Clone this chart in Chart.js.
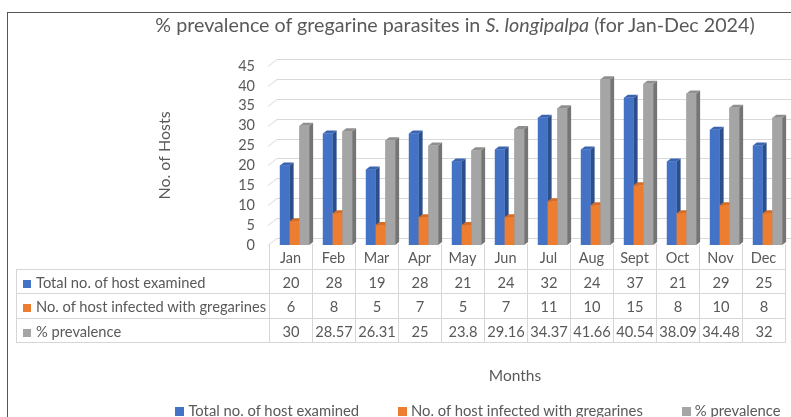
<!DOCTYPE html>
<html><head><meta charset="utf-8">
<script src="https://cdn.jsdelivr.net/npm/chart.js@4.4.1/dist/chart.umd.min.js"></script>
<style>
html,body{margin:0;padding:0;background:#fff;}
#wrap{position:relative;width:791px;height:417px;overflow:hidden;font-family:Lato,'Open Sans',sans-serif;color:#595959;}
#frame{position:absolute;left:7px;top:12px;width:950px;height:500px;border-left:1.5px solid #555;border-top:1.5px solid #555;}
#c{position:absolute;left:0;top:0;}
#title{position:absolute;left:0;top:12px;width:910px;text-align:center;font-size:19.7px;line-height:26px;white-space:nowrap;}
#xtitle{position:absolute;left:415px;top:366px;width:200px;text-align:center;font-size:15.5px;line-height:18px;}
#tbl{position:absolute;left:16px;top:244px;border-collapse:collapse;table-layout:fixed;font-size:14.7px;}
#tbl td{border:1px solid #D6D6D6;padding:0;text-align:center;white-space:nowrap;overflow:hidden;}
#tbl tr.hd td{border-top:none;height:25px;}
#tbl tr.hd td.lab{border-left:none;}
#tbl td.lab{text-align:left;padding-left:6px;}
.key{display:inline-block;width:8px;height:8px;margin-right:5px;vertical-align:0px;}
#legend{position:absolute;left:0;top:401px;width:956px;display:flex;justify-content:center;gap:39px;font-size:14.8px;line-height:18px;white-space:nowrap;}
#legend .lk{display:inline-block;width:9px;height:9px;margin-right:4px;vertical-align:0px;}
</style></head>
<body>
<div id="wrap">
  <div id="frame"></div>
  <canvas id="c" width="791" height="417"></canvas>
  <div id="title">% prevalence of gregarine parasites in <i>S. longipalpa</i> (for Jan-Dec 2024)</div>
  <table id="tbl"></table>
  <div id="xtitle">Months</div>
  <div id="legend"></div>
</div>
<script>
const months = ['Jan','Feb','Mar','Apr','May','Jun','Jul','Aug','Sept','Oct','Nov','Dec'];
const totalExamined = [20,28,19,28,21,24,32,24,37,21,29,25];
const infected = [6,8,5,7,5,7,11,10,15,8,10,8];
const prevalence = [30,28.57,26.31,25,23.8,29.16,34.37,41.66,40.54,38.09,34.48,32];
const prevalenceText = ['30','28.57','26.31','25','23.8','29.16','34.37','41.66','40.54','38.09','34.48','32'];
const seriesNames = ['Total no. of host examined','No. of host infected with gregarines','% prevalence'];
const yAxisTitle = 'No. of Hosts';

const FRONT = ['#4472C4','#ED7D31','#A5A5A5'];
const SIDE  = ['#2C4F8C','#AD5A22','#757575'];
const TOP   = ['#3A64B0','#D26E2A','#8F8F8F'];
const TXT = '#595959';
const DX = 4, DY = 3, SHIFT = 4;

const bar3d = {
  id: 'bar3d',
  beforeDatasetsDraw(chart) {
    const {ctx, chartArea: a, scales: {y}} = chart;
    ctx.save();
    ctx.strokeStyle = '#D9D9D9'; ctx.lineWidth = 1;
    y.ticks.forEach(t => {
      const py = Math.round(y.getPixelForValue(t.value)) + 0.5;
      ctx.beginPath();
      ctx.moveTo(a.left - 1, py);
      ctx.lineTo(a.left + 8, py - 7);
      ctx.lineTo(chart.width, py - 7);
      ctx.stroke();
    });
    ctx.restore();
    ctx.save();
    ctx.translate(SHIFT, 0);
  },
  afterDatasetsDraw(chart) {
    const ctx = chart.ctx;
    const metas = chart.data.datasets.map((d, i) => chart.getDatasetMeta(i));
    const n = chart.data.labels.length;
    for (let j = 0; j < n; j++) {
      for (let i = 0; i < metas.length; i++) {
        const el = metas[i].data[j];
        const {x, y, base, width} = el.getProps(['x', 'y', 'base', 'width'], true);
        const l = x - width / 2, r = x + width / 2;
        ctx.fillStyle = SIDE[i];
        ctx.beginPath();
        ctx.moveTo(r, y); ctx.lineTo(r + DX, y - DY); ctx.lineTo(r + DX, base - DY); ctx.lineTo(r, base);
        ctx.closePath(); ctx.fill();
        ctx.fillStyle = TOP[i];
        ctx.beginPath();
        ctx.moveTo(l, y); ctx.lineTo(l + DX, y - DY); ctx.lineTo(r + DX, y - DY); ctx.lineTo(r, y);
        ctx.closePath(); ctx.fill();
        ctx.fillStyle = FRONT[i];
        ctx.fillRect(l, y, width, base - y);
      }
    }
    ctx.restore();
  }
};

const font = {family: 'Lato', size: 14.5};
const chart = new Chart(document.getElementById('c'), {
  type: 'bar',
  data: {
    labels: months,
    datasets: [
      {label: seriesNames[0], data: totalExamined, backgroundColor: FRONT[0], borderWidth: 0},
      {label: seriesNames[1], data: infected, backgroundColor: FRONT[1], borderWidth: 0},
      {label: seriesNames[2], data: prevalence, backgroundColor: FRONT[2], borderWidth: 0}
    ]
  },
  options: {
    responsive: false,
    animation: false,
    datasets: {bar: {categoryPercentage: 0.68, barPercentage: 1}},
    layout: {padding: {left: 168, right: 6, top: 66, bottom: 0}},
    plugins: {
      legend: {display: false},
      tooltip: {enabled: false},
      title: {display: false}
    },
    scales: {
      x: {
        grid: {display: false, drawTicks: false}, border: {display: false},
        ticks: {color: TXT, font: font, padding: 5, autoSkip: false, maxRotation: 0},
        afterFit(s) { s.height = 172; }
      },
      y: {
        min: 0, max: 45,
        grid: {display: false, drawTicks: false}, border: {display: false},
        ticks: {stepSize: 5, color: TXT, font: font, padding: 14, autoSkip: false},
        title: {display: true, text: yAxisTitle, color: TXT, font: {family: 'Lato', size: 16}, padding: {top: -13, bottom: 0}},
        afterFit(s) { s.width = 101; }
      }
    }
  },
  plugins: [bar3d]
});

// data table built from the arrays, columns aligned to the x scale
(function buildTable() {
  const xs = chart.scales.x;
  const colW = xs.width / months.length;
  const tbl = document.getElementById('tbl');
  const labW = xs.left - 16;
  let cg = '<colgroup><col style="width:' + labW + 'px">';
  months.forEach(() => { cg += '<col style="width:' + colW + 'px">'; });
  cg += '</colgroup>';
  let html = cg + '<tr class="hd"><td class="lab"></td>' + months.map(() => '<td></td>').join('') + '</tr>';
  const rows = [totalExamined.map(String), infected.map(String), prevalenceText];
  const heights = [24, 25, 24];
  rows.forEach((r, i) => {
    html += '<tr style="height:' + heights[i] + 'px"><td class="lab"><span class="key" style="background:' + FRONT[i] + '"></span>' + seriesNames[i] + '</td>' +
      r.map(v => '<td>' + v + '</td>').join('') + '</tr>';
  });
  tbl.innerHTML = html;
  tbl.style.width = (labW + colW * months.length) + 'px';
})();

// legend built from the series names and colours
document.getElementById('legend').innerHTML = seriesNames.map((s, i) =>
  '<span><span class="lk" style="background:' + FRONT[i] + '"></span>' + s + '</span>').join('');
</script>
</body></html>
